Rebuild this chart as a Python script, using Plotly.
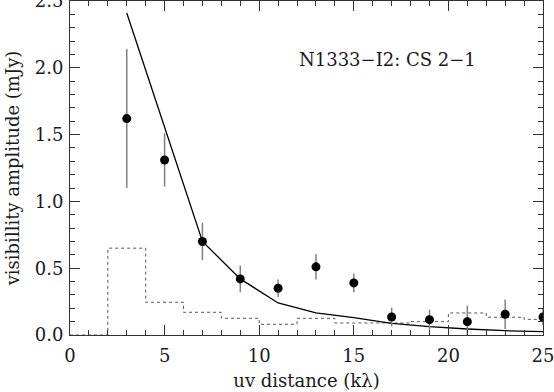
import plotly.graph_objects as go

# measured visibilities
uv = [3, 5, 7, 9, 11, 13, 15, 17, 19, 21, 23, 25]
amp = [1.62, 1.31, 0.70, 0.42, 0.35, 0.51, 0.39, 0.135, 0.115, 0.10, 0.155, 0.135]
err = [0.52, 0.20, 0.14, 0.10, 0.065, 0.095, 0.07, 0.07, 0.075, 0.12, 0.11, 0.06]

# model curve
uv_model = [3, 5, 7, 9, 11, 13, 15, 17, 19, 21, 23, 25]
amp_model = [2.41, 1.55, 0.70, 0.42, 0.24, 0.166, 0.13, 0.087, 0.062, 0.045, 0.032, 0.025]

# expected amplitude for zero signal (histogram, bin edges)
bin_edges = [0, 2, 4, 6, 8, 10, 12, 14, 16, 18, 20, 22, 24, 26]
noise = [0, 0.65, 0.245, 0.17, 0.125, 0.08, 0.125, 0.09, 0.09, 0.10, 0.165, 0.133, 0.117]

font = "DejaVu Serif"
txt = "#1a1a1a"

fig = go.Figure()
fig.add_trace(go.Scatter(
    x=bin_edges, y=noise + [noise[-1]], mode="lines", line_shape="hv",
    line=dict(color="#555555", width=1, dash="dot"), showlegend=False))
fig.add_trace(go.Scatter(
    x=uv_model, y=amp_model, mode="lines",
    line=dict(color="black", width=1.3), showlegend=False))
fig.add_trace(go.Scatter(
    x=uv, y=amp, mode="markers",
    marker=dict(color="black", size=9),
    error_y=dict(type="data", array=err, color="#808080", thickness=1.5, width=0),
    showlegend=False))

fig.add_annotation(x=0.672, y=0.862, xref="paper", yref="paper", xanchor="center",
                   text="N1333\u2212I2: CS 2\u22121", showarrow=False,
                   font=dict(family=font, size=18, color=txt))

axis_common = dict(
    showgrid=False, zeroline=False, showline=True, linecolor="#333333",
    linewidth=1, mirror="allticks", ticks="inside", ticklen=10,
    tickcolor="#333333", tickwidth=1, automargin=False,
    ticklabeloverflow="allow",
    tickfont=dict(family=font, size=18, color=txt),
)

fig.update_xaxes(range=[0, 25], dtick=5, tick0=0, ticklabelstandoff=4,
                 minor=dict(ticks="inside", dtick=1, ticklen=5, tickcolor="#333333"),
                 title=dict(text="uv distance (k\u03bb)", font=dict(family=font, size=18, color=txt),
                            standoff=9),
                 **axis_common)
fig.update_yaxes(range=[0, 2.5], dtick=0.5, tick0=0, tickformat=".1f", ticklabelstandoff=2,
                 minor=dict(ticks="inside", dtick=0.1, ticklen=5, tickcolor="#333333"),
                 title=dict(text="visibillity amplitude (mJy)", font=dict(family=font, size=18, color=txt),
                            standoff=10),
                 **axis_common)

fig.update_layout(
    width=554, height=392,
    margin=dict(l=70, r=11, t=1, b=57),
    plot_bgcolor="white", paper_bgcolor="white",
)

fig.write_html("out.html", config={"displayModeBar": False},
               post_script="document.body.style.margin='0';")
